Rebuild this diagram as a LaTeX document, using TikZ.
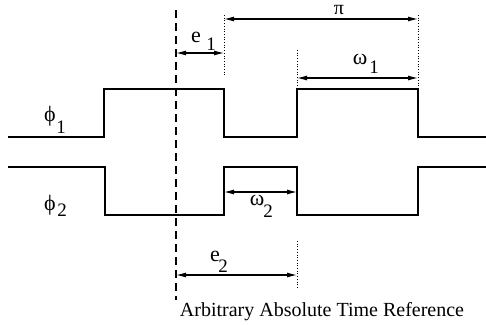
\documentclass[tikz,border=0pt]{standalone}
\usepackage{fontspec}
\setmainfont{Liberation Serif}
\usetikzlibrary{arrows.meta}
\begin{document}
\begin{tikzpicture}[x=1pt,y=-1pt,
  wave/.style={line width=1.4pt,line join=miter},
  dim/.style={line width=1.1pt,{Latex[length=10pt,width=5pt]}-{Latex[length=10pt,width=5pt]}},
  guide/.style={line width=0.7pt,dotted},
  lbl/.style={inner sep=0pt,font=\fontsize{22}{24}\selectfont},
  sub/.style={inner sep=0pt,font=\fontsize{19}{20}\selectfont}]
\useasboundingbox (0,0) rectangle (486,324);
% waveforms
\draw[wave] (8,137) -- (104,137) -- (104,89) -- (224,89) -- (224,137) -- (297,137) -- (297,89) -- (418,89) -- (418,137) -- (486,137);
\draw[wave] (8,167) -- (105,167) -- (105,215) -- (224,215) -- (224,167) -- (297,167) -- (297,215) -- (418,215) -- (418,167) -- (486,167);
% time reference
\coordinate (rt) at (176,10);
\coordinate (rb) at (176,300);
\draw[line width=1.5pt,dash pattern=on 8pt off 5pt] (rt) -- (rb);
% guide coordinates
\coordinate (a1) at (224,15); \coordinate (a2) at (224,76);
\coordinate (b1) at (418,15); \coordinate (b2) at (418,89);
\coordinate (c1) at (297,50); \coordinate (c2) at (297,89);
\coordinate (d1) at (297,241); \coordinate (d2) at (297,288);
\draw[guide] (a1) -- (a2);
\draw[guide] (b1) -- (b2);
\draw[guide] (c1) -- (c2);
\draw[guide] (d1) -- (d2);
% dimension ends
\coordinate (pL) at (224,19); \coordinate (pR) at (418,19);
\coordinate (e1L) at (176,53); \coordinate (e1R) at (224,53);
\coordinate (w1L) at (297,78); \coordinate (w1R) at (418,78);
\coordinate (w2L) at (224,192); \coordinate (w2R) at (297,192);
\coordinate (e2L) at (176,275); \coordinate (e2R) at (297,275);
\draw[dim] (pL) -- (pR);
\draw[dim] (e1L) -- (e1R);
\draw[dim] (w1L) -- (w1R);
\draw[dim] (w2L) -- (w2R);
\draw[dim] (e2L) -- (e2R);
% labels
\node[inner sep=0pt,font=\fontsize{20}{22}\selectfont] (pi) at (339,10) {π};
\node[lbl] (e1) at (196,37) {e};
\node[sub] (e1s) at (211,44) {1};
\node[lbl] (w1) at (360,59) {ω};
\node[sub] (w1s) at (374,67) {1};
\node[lbl] (w2) at (257,200) {ω};
\node[sub] (w2s) at (268,211) {2};
\node[lbl] (e2) at (215,256) {e};
\node[sub] (e2s) at (223,266) {2};
\node[lbl] (f1) at (50,116) {ϕ};
\node[sub] (f1s) at (61,127) {1};
\node[lbl] (f2) at (50,205) {ϕ};
\node[sub] (f2s) at (62,210) {2};
\node[inner sep=0pt,font=\fontsize{20}{22}\selectfont] (cap) at (322,312) {Arbitrary Absolute Time Reference};
\end{tikzpicture}
\end{document}
